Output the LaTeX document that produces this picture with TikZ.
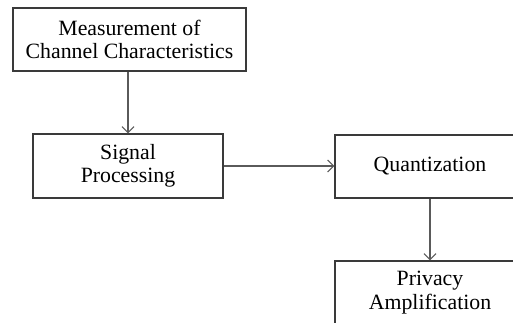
\documentclass[tikz,border=0pt]{standalone}
\usepackage{fontspec}
\setmainfont{Liberation Serif}
\usetikzlibrary{arrows.meta}
\definecolor{boxline}{HTML}{3A3A3A}
\definecolor{arrline}{HTML}{5A5A5A}
\tikzset{
  blockbox/.style={draw=boxline, line width=1.2pt, inner sep=0pt, align=center,
    font=\fontsize{21.8}{23.5}\selectfont, text=black},
  flowarrow/.style={draw=arrline, line width=1.1pt,
    -{Straight Barb[length=6pt,width=12pt,line width=1.1pt]}}
}
\begin{document}
\begin{tikzpicture}[x=1pt,y=-1pt]
\useasboundingbox (0,0) rectangle (513,323);
\clip (0,0) rectangle (513,323);
\fill[white] (0,0) rectangle (513,323);
\node[blockbox, minimum width=233pt, minimum height=63pt] (meas) at (129.5,39.5) {Measurement of\\Channel Characteristics};
\node[blockbox, minimum width=190pt, minimum height=64pt] (sig) at (128,166) {Signal\\Processing};
\node[blockbox, minimum width=190pt, minimum height=63pt] (quant) at (430,166.5) {Quantization};
\node[blockbox, minimum width=190pt, minimum height=63pt] (priv) at (430,292.5) {Privacy\\Amplification};
\draw[flowarrow] (meas.south -| sig.north) -- (sig.north);
\draw[flowarrow] (sig.east) -- (sig.east -| quant.west);
\draw[flowarrow] (quant.south) -- (priv.north);
\end{tikzpicture}
\end{document}
